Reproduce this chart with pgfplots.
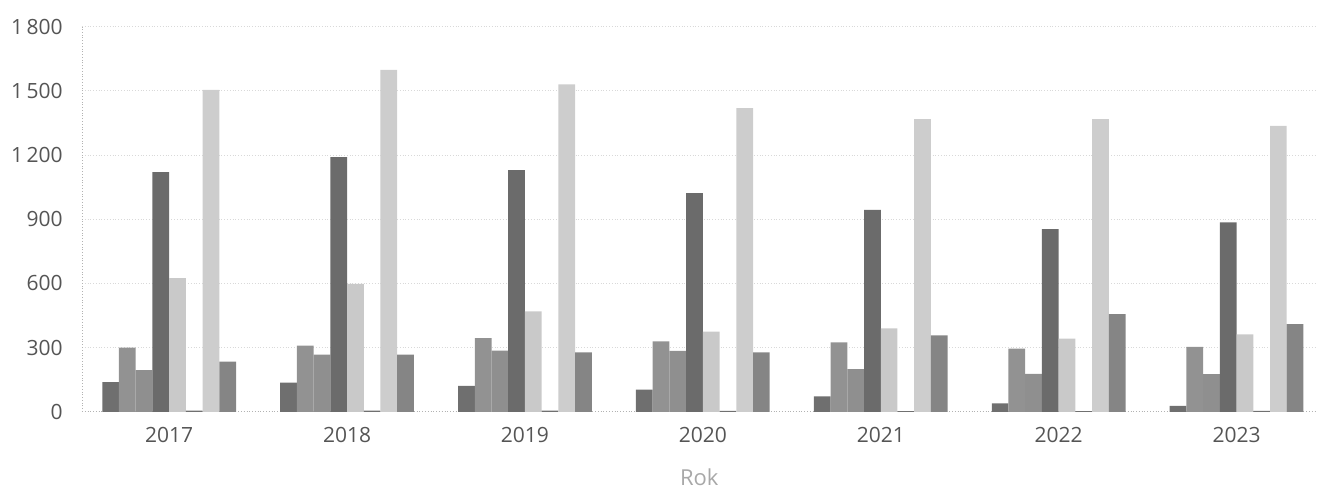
\documentclass[border=0pt]{standalone}
\usepackage{pgfplots}
\pgfplotsset{compat=1.18}
\usepackage{pgfplotstable}
\usepackage{fontspec}
\setmainfont{Open Sans}
\definecolor{cA}{HTML}{6F6F6F}
\definecolor{cB}{HTML}{929292}
\definecolor{cC}{HTML}{8F8F8F}
\definecolor{cD}{HTML}{6B6B6B}
\definecolor{cE}{HTML}{C9C9C9}
\definecolor{cF}{HTML}{707070}
\definecolor{cG}{HTML}{CDCDCD}
\definecolor{cH}{HTML}{858585}
\definecolor{ticktext}{HTML}{555555}
\definecolor{labeltext}{HTML}{A8A8A8}
\pgfplotstableread{
x a b c d e f g h
0 139 300 195 1120 625 6 1505 235
1 137 310 268 1190 598 6 1598 268
2 122 345 286 1130 470 6 1530 278
3 104 330 285 1022 375 5 1420 278
4 72 325 200 944 390 3 1368 358
5 40 296 178 854 342 3 1368 457
6 28 304 176 885 362 5 1337 410
}\datatable
\begin{document}
\begin{tikzpicture}
\path[draw=none] (0,0) rectangle (658.5bp,245.5bp);
\begin{axis}[
  at={(41bp,39.5bp)}, anchor=south west,
  scale only axis, width=617.5bp, height=192.65bp,
  ybar=0pt, bar width=0.094,
  xmin=-0.49, xmax=6.45, ymin=0, ymax=1800,
  xtick={0,...,6}, xticklabels={2017,2018,2019,2020,2021,2022,2023},
  ytick={0,300,...,1800},
  major tick length=0pt,
  axis lines*=left,
  axis line style={densely dotted, gray!60},
  ymajorgrids, grid style={densely dotted, gray!30},
  /pgf/number format/assume math mode=true,
  /pgf/number format/1000 sep={\,},
  tick label style={font=\fontsize{10.5bp}{12bp}\selectfont, text=ticktext},
  yticklabel style={inner sep=0pt, xshift=-9.5bp},
  xticklabel style={inner sep=0pt, yshift=-7.3bp},
  xlabel={Rok},
  xlabel style={at={(axis description cs:0.5,0)}, anchor=center, yshift=-32.5bp, font=\fontsize{11bp}{13bp}\selectfont, text=labeltext},
  every axis plot/.append style={draw=none},
]
\addplot[fill=cA] table[x=x,y=a] {\datatable};
\addplot[fill=cB] table[x=x,y=b] {\datatable};
\addplot[fill=cC] table[x=x,y=c] {\datatable};
\addplot[fill=cD] table[x=x,y=d] {\datatable};
\addplot[fill=cE] table[x=x,y=e] {\datatable};
\addplot[fill=cF] table[x=x,y=f] {\datatable};
\addplot[fill=cG] table[x=x,y=g] {\datatable};
\addplot[fill=cH] table[x=x,y=h] {\datatable};
\end{axis}
\end{tikzpicture}
\end{document}
